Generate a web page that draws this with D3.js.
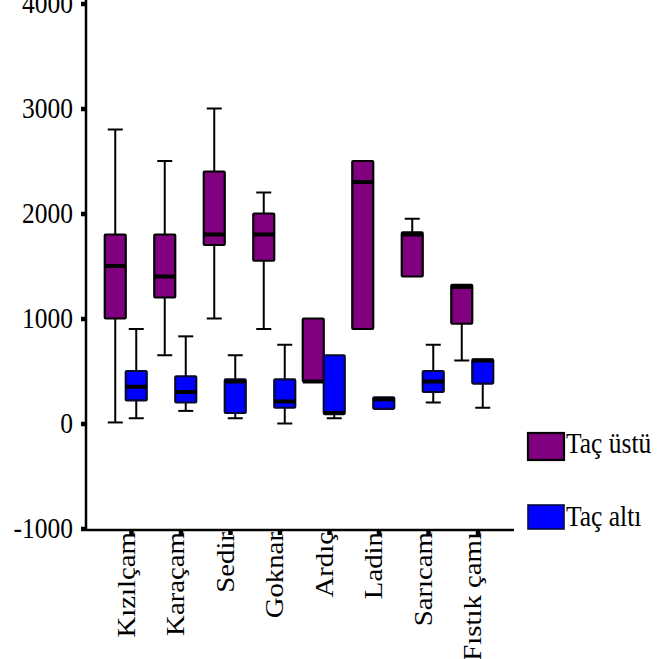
<!DOCTYPE html>
<html>
<head>
<meta charset="utf-8">
<script src="https://cdn.jsdelivr.net/npm/d3@7"></script>
<style>
  body { margin: 0; background: #fff; }
  svg { display: block; }
</style>
</head>
<body>
<svg id="chart" width="666" height="659"></svg>
<script>
// Species on the category axis
const species = ["Kızılçam", "Karaçam", "Sedir", "Goknar", "Ardıç", "Ladin", "Sarıcam", "Fıstık çamı"];
const seriesNames = ["Taç üstü", "Taç altı"];
const seriesColors = ["#800080", "#0000ff"];

// Five-number summaries per species: [min, q1, median, q3, max]
const tacUstu = [
  [10, 1000, 1500, 1800, 2800],
  [650, 1200, 1400, 1800, 2500],
  [1000, 1700, 1800, 2400, 3000],
  [900, 1550, 1800, 2000, 2200],
  [400, 400, 400, 1000, 1000],
  [900, 900, 2300, 2500, 2500],
  [1400, 1400, 1800, 1820, 1950],
  [600, 950, 1300, 1320, 1320]
];
const tacAlti = [
  [50, 220, 350, 500, 900],
  [120, 200, 300, 450, 830],
  [50, 100, 400, 420, 650],
  [0, 150, 210, 420, 750],
  [50, 90, 100, 650, 650],
  [140, 140, 230, 250, 250],
  [200, 300, 400, 500, 750],
  [150, 380, 600, 610, 610]
];
const yTicks = [-1000, 0, 1000, 2000, 3000, 4000];

const FONT_FAMILY = "'Liberation Serif', 'Times New Roman', Times, serif";
const FONT = 25.5, STRETCH = 1.13;

const svg = d3.select("#chart");

const y = d3.scaleLinear().domain([-1000, 4000]).range([528.5, 3.5]);
const x = d3.scaleBand().domain(species).range([101, 497]);
const xs = d3.scaleBand().domain(seriesNames).range([-21, 21]);

// Y axis: square tick marks and labels (plain hyphen for negatives)
const yAxis = svg.append("g").attr("transform", "translate(85,0)")
  .call(d3.axisLeft(y).tickValues(yTicks).tickSize(4).tickPadding(8).tickFormat(d => String(d)));
yAxis.select(".domain").remove();
yAxis.selectAll(".tick line").attr("stroke", "#000").attr("stroke-width", 4.5);
yAxis.selectAll(".tick text")
  .attr("dy", null)
  .style("font-family", FONT_FAMILY)
  .style("font-size", FONT + "px")
  .style("dominant-baseline", "central")
  .attr("transform", `translate(0,-1) scale(1,${STRETCH})`);

// Axis lines
svg.append("line").attr("x1", 86).attr("x2", 86).attr("y1", 0).attr("y2", 531)
  .attr("stroke", "#000").attr("stroke-width", 2.5);
svg.append("line").attr("x1", 85).attr("x2", 514).attr("y1", 530).attr("y2", 530)
  .attr("stroke", "#000").attr("stroke-width", 2.5);

// X ticks and rotated labels
const xg = svg.append("g");
species.forEach(sp => {
  const c = x(sp) + x.bandwidth() / 2;
  xg.append("rect").attr("x", c + 3.5).attr("y", 530).attr("width", 4.5).attr("height", 5).attr("fill", "#000");
  xg.append("text")
    .attr("transform", `translate(${c + 9},532) scale(1,${STRETCH}) rotate(-90)`)
    .attr("text-anchor", "end")
    .style("font-family", FONT_FAMILY)
    .style("font-size", FONT + "px")
    .text(sp);
});

// Box plots
const series = [tacUstu, tacAlti];
series.forEach((vals, si) => {
  const name = seriesNames[si];
  const g = svg.append("g");
  const outline = si === 0 ? "#000" : "#0a0a30";
  vals.forEach((v, i) => {
    const [mn, q1, md, q3, mx] = v;
    const left = x(species[i]) + x.bandwidth() / 2 + xs(name);
    const w = xs.bandwidth();
    const cx = left + w / 2;
    // whiskers
    if (mn < q1) {
      g.append("line").attr("x1", cx).attr("x2", cx).attr("y1", y(q1)).attr("y2", y(mn))
        .attr("stroke", "#000").attr("stroke-width", 2);
      g.append("line").attr("x1", cx - 7.5).attr("x2", cx + 7.5).attr("y1", y(mn)).attr("y2", y(mn))
        .attr("stroke", "#000").attr("stroke-width", 2);
    }
    if (mx > q3) {
      g.append("line").attr("x1", cx).attr("x2", cx).attr("y1", y(q3)).attr("y2", y(mx))
        .attr("stroke", "#000").attr("stroke-width", 2);
      g.append("line").attr("x1", cx - 7.5).attr("x2", cx + 7.5).attr("y1", y(mx)).attr("y2", y(mx))
        .attr("stroke", "#000").attr("stroke-width", 2);
    }
    // box
    g.append("rect")
      .attr("x", left).attr("y", y(q3))
      .attr("width", w).attr("height", y(q1) - y(q3))
      .attr("rx", 1)
      .attr("fill", seriesColors[si])
      .attr("stroke", outline).attr("stroke-width", 2.2);
    // median
    g.append("line").attr("x1", left).attr("x2", left + w).attr("y1", y(md)).attr("y2", y(md))
      .attr("stroke", "#000").attr("stroke-width", 4);
  });
});

// Legend
const legendY = [433, 505];
const legendBase = [453, 526];
const legendH = [27, 24];
seriesNames.forEach((name, i) => {
  svg.append("rect")
    .attr("x", 528).attr("y", legendY[i]).attr("width", 36).attr("height", legendH[i])
    .attr("fill", seriesColors[i])
    .attr("stroke", i === 0 ? "#000" : "#0a0a40").attr("stroke-width", i === 0 ? 2.2 : 1.6);
  svg.append("text")
    .attr("transform", `translate(566,${legendBase[i]}) scale(1,${STRETCH})`)
    .style("font-family", FONT_FAMILY)
    .style("font-size", FONT + "px")
    .text(name);
});
</script>
</body>
</html>
